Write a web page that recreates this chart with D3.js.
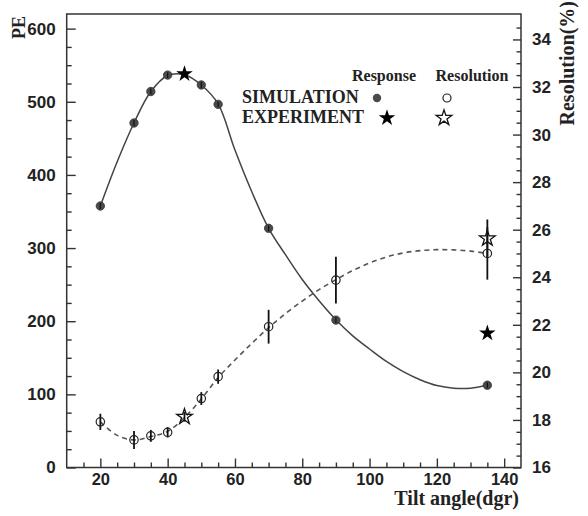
<!DOCTYPE html>
<html>
<head>
<meta charset="utf-8">
<script src="https://cdn.jsdelivr.net/npm/d3@7"></script>
<style>
  body { margin: 0; background: #fff; }
  svg { display: block; font-family: "Liberation Serif", "Times New Roman", serif; font-weight: bold; }
</style>
</head>
<body>
<svg></svg>
<script>
// simulation points
let simAngle = [20, 30, 35, 40, 50, 55, 70, 90, 135]
let simPE = [357.5, 471, 514, 536.5, 523, 496.5, 327, 201.5, 112.5]
let simPEErr = [4, 4, 4, 4, 4, 4, 4, 4, 4]
let simRes = [17.92, 17.16, 17.33, 17.48, 18.9, 19.82, 21.92, 23.88, 25.0]
let simResErr = [0.34, 0.38, 0.25, 0.22, 0.27, 0.3, 0.71, 0.98, 1.1]

// experiment points
let expAngle = [45, 135]
let expPE = [538, 183.5]
let expRes = [18.13, 25.63]
let expResErr = [0.2, 0.8]

// fitted curves
let fitAngle = [20, 25, 30, 35, 40, 45, 50, 55, 60, 65, 70, 75, 80, 85, 90, 95, 100, 105, 110, 115, 120, 125, 130, 135]
let fitPE = [357.5, 418, 471, 514, 536, 537, 523, 497, 434, 377, 327, 291, 257, 228, 202, 180, 162, 145, 131, 120, 112, 108.5, 108.5, 112.5]
let fitRes = [17.92, 17.35, 17.16, 17.3, 17.52, 18.1, 18.88, 19.78, 20.52, 21.22, 21.88, 22.47, 23.0, 23.48, 23.9, 24.28, 24.6, 24.85, 25.02, 25.12, 25.16, 25.15, 25.1, 25.0]

let xMajor = [20, 40, 60, 80, 100, 120, 140]
let peMajor = [0, 100, 200, 300, 400, 500, 600]
let resMajor = [16, 18, 20, 22, 24, 26, 28, 30, 32, 34]

let width = 588
let height = 516
let plotLeft = 66.7, plotRight = 521, plotTop = 14, plotBottom = 467.5
let svg = d3.select('svg')
let xScale, peScale, resScale

let drawCanvas = () => {
    svg.attr('width', width)
    svg.attr('height', height)
}

let generateScales = () => {
    xScale = d3.scaleLinear().domain([10, 145]).range([plotLeft, plotRight])
    peScale = d3.scaleLinear().domain([0, 620]).range([plotBottom, plotTop])
    resScale = d3.scaleLinear().domain([16, 35.07]).range([plotBottom, plotTop])
}

let drawAxes = () => {
    let xMinor = d3.range(15, 145, 5).filter((v) => v % 20 != 0)
    let peMinor = d3.range(25, 620, 25).filter((v) => v % 100 != 0)
    let resMinor = d3.range(16.5, 35, 0.5).filter((v) => v % 2 != 0)

    let style = (g, size) => {
        g.select('.domain').remove()
        g.selectAll('line').attr('stroke', '#333').attr('stroke-width', 1.4)
        g.selectAll('text').attr('font-size', size).attr('fill', '#222')
    }

    svg.append('g')
        .attr('transform', 'translate(0,' + plotBottom + ')')
        .call(d3.axisBottom(xScale).tickValues(xMajor).tickSizeInner(-9).tickSizeOuter(0).tickPadding(6))
        .call((g) => style(g, 16.5))
    svg.append('g')
        .attr('transform', 'translate(0,' + plotBottom + ')')
        .call(d3.axisBottom(xScale).tickValues(xMinor).tickSizeInner(-5).tickSizeOuter(0).tickFormat(''))
        .call((g) => style(g, 16.5))

    svg.append('g')
        .attr('transform', 'translate(' + plotLeft + ',0)')
        .call(d3.axisLeft(peScale).tickValues(peMajor).tickSizeInner(-9).tickSizeOuter(0).tickPadding(11))
        .call((g) => style(g, 17))
    svg.append('g')
        .attr('transform', 'translate(' + plotLeft + ',0)')
        .call(d3.axisLeft(peScale).tickValues(peMinor).tickSizeInner(-5).tickSizeOuter(0).tickFormat(''))
        .call((g) => style(g, 17))

    svg.append('g')
        .attr('transform', 'translate(' + plotRight + ',0)')
        .call(d3.axisRight(resScale).tickValues(resMajor).tickSizeInner(-8).tickSizeOuter(0).tickPadding(11))
        .call((g) => style(g, 17))
    svg.append('g')
        .attr('transform', 'translate(' + plotRight + ',0)')
        .call(d3.axisRight(resScale).tickValues(resMinor).tickSizeInner(-4.5).tickSizeOuter(0).tickFormat(''))
        .call((g) => style(g, 17))

    // frame
    svg.append('rect')
        .attr('x', plotLeft).attr('y', plotTop)
        .attr('width', plotRight - plotLeft).attr('height', plotBottom - plotTop)
        .attr('fill', 'none').attr('stroke', '#333').attr('stroke-width', 1.5)

    svg.append('text')
        .attr('x', 519).attr('y', 505)
        .attr('text-anchor', 'end').attr('font-size', 20).attr('fill', '#222')
        .text('Tilt angle(dgr)')
    svg.append('text')
        .attr('transform', 'translate(25,16) rotate(-90)')
        .attr('text-anchor', 'end').attr('font-size', 18).attr('fill', '#222')
        .text('PE')
    svg.append('text')
        .attr('transform', 'translate(574,1) rotate(-90)')
        .attr('text-anchor', 'end').attr('font-size', 20).attr('fill', '#222')
        .text('Resolution(%)')
}

let drawCurves = () => {
    let peLine = d3.line()
        .x((d, i) => xScale(fitAngle[i]))
        .y((d) => peScale(d))
        .curve(d3.curveCatmullRom.alpha(0.5))
    let resLine = d3.line()
        .x((d, i) => xScale(fitAngle[i]))
        .y((d) => resScale(d))
        .curve(d3.curveCatmullRom.alpha(0.5))
    svg.append('path')
        .attr('d', peLine(fitPE))
        .attr('fill', 'none').attr('stroke', '#444').attr('stroke-width', 1.5)
    svg.append('path')
        .attr('d', resLine(fitRes))
        .attr('fill', 'none').attr('stroke', '#555').attr('stroke-width', 1.6)
        .attr('stroke-dasharray', '5,4')
}

let star = d3.symbol().type(d3.symbolStar)

let drawPoints = () => {
    // resolution error bars
    svg.selectAll('line.res-err')
        .data(simAngle)
        .enter()
        .append('line')
        .attr('class', 'res-err')
        .attr('x1', (d) => xScale(d)).attr('x2', (d) => xScale(d))
        .attr('y1', (d, i) => resScale(simRes[i] - simResErr[i]))
        .attr('y2', (d, i) => resScale(simRes[i] + simResErr[i]))
        .attr('stroke', '#111').attr('stroke-width', 1.8)
    svg.selectAll('line.exp-err')
        .data(expAngle)
        .enter()
        .append('line')
        .attr('class', 'exp-err')
        .attr('x1', (d) => xScale(d)).attr('x2', (d) => xScale(d))
        .attr('y1', (d, i) => resScale(expRes[i] - expResErr[i]))
        .attr('y2', (d, i) => resScale(expRes[i] + expResErr[i]))
        .attr('stroke', '#111').attr('stroke-width', 1.8)

    // simulation resolution: open circles
    svg.selectAll('circle.res')
        .data(simAngle)
        .enter()
        .append('circle')
        .attr('class', 'res')
        .attr('cx', (d) => xScale(d))
        .attr('cy', (d, i) => resScale(simRes[i]))
        .attr('r', 4.2)
        .attr('fill', 'none').attr('stroke', '#222').attr('stroke-width', 1.2)

    // simulation response: filled circles
    svg.selectAll('circle.pe')
        .data(simAngle)
        .enter()
        .append('circle')
        .attr('class', 'pe')
        .attr('cx', (d) => xScale(d))
        .attr('cy', (d, i) => peScale(simPE[i]))
        .attr('r', 4.2)
        .attr('fill', '#4a4a4a').attr('stroke', '#333').attr('stroke-width', 0.8)
    svg.selectAll('line.pe-err')
        .data(simAngle)
        .enter()
        .append('line')
        .attr('class', 'pe-err')
        .attr('x1', (d) => xScale(d)).attr('x2', (d) => xScale(d))
        .attr('y1', (d, i) => peScale(simPE[i] - simPEErr[i]))
        .attr('y2', (d, i) => peScale(simPE[i] + simPEErr[i]))
        .attr('stroke', '#111').attr('stroke-width', 1.2)

    // experiment: stars
    svg.selectAll('path.exp-pe')
        .data(expAngle)
        .enter()
        .append('path')
        .attr('class', 'exp-pe')
        .attr('d', star.size(85)())
        .attr('transform', (d, i) => 'translate(' + xScale(d) + ',' + peScale(expPE[i]) + ')')
        .attr('fill', '#000')
    svg.selectAll('path.exp-res')
        .data(expAngle)
        .enter()
        .append('path')
        .attr('class', 'exp-res')
        .attr('d', star.size(75)())
        .attr('transform', (d, i) => 'translate(' + xScale(d) + ',' + resScale(expRes[i]) + ')')
        .attr('fill', 'none').attr('stroke', '#111').attr('stroke-width', 1.3)
}

let drawLegend = () => {
    let g = svg.append('g').attr('fill', '#222')
    g.append('text').attr('x', 384).attr('y', 81).attr('text-anchor', 'middle').attr('font-size', 16).text('Response')
    g.append('text').attr('x', 472).attr('y', 81).attr('text-anchor', 'middle').attr('font-size', 16).text('Resolution')
    g.append('text').attr('x', 242).attr('y', 103).attr('font-size', 18).text('SIMULATION')
    g.append('text').attr('x', 242).attr('y', 123).attr('font-size', 18).text('EXPERIMENT')
    g.append('circle').attr('cx', 377).attr('cy', 98).attr('r', 4.2).attr('fill', '#4a4a4a')
    g.append('circle').attr('cx', 447).attr('cy', 98).attr('r', 4).attr('fill', 'none').attr('stroke', '#222').attr('stroke-width', 1.2)
    g.append('path').attr('d', star.size(85)()).attr('transform', 'translate(387,118)').attr('fill', '#000')
    g.append('path').attr('d', star.size(75)()).attr('transform', 'translate(444,118)').attr('fill', 'none').attr('stroke', '#111').attr('stroke-width', 1.3)
}

drawCanvas()
generateScales()
drawCurves()
drawAxes()
drawPoints()
drawLegend()
</script>
</body>
</html>
